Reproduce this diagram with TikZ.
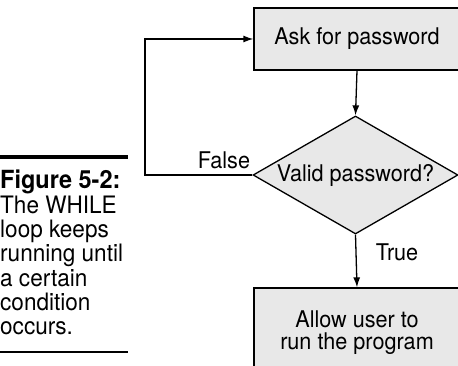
\documentclass[tikz,border=0pt]{standalone}
\usepackage{fontspec}
\setmainfont{TeX Gyre Heros}[FakeStretch=0.94]
\usetikzlibrary{shapes.geometric,arrows.meta}
\definecolor{boxgray}{HTML}{E8E8E8}
\tikzset{
  flowbox/.style={draw=black, line width=1.3pt, fill=boxgray, minimum width=206pt, inner sep=0pt, font=\fontsize{23}{23}\selectfont, align=center},
  decision/.style={diamond, aspect=1.74, draw=black, line width=1.3pt, fill=boxgray, minimum width=205pt, minimum height=118pt, inner sep=0pt, font=\fontsize{23}{23}\selectfont},
  arr/.style={line width=1.3pt, -{Latex[length=10pt,width=7pt]}},
  lbl/.style={font=\fontsize{23}{23}\selectfont, inner sep=0pt},
}
\begin{document}
\begin{tikzpicture}[x=1pt,y=-1pt]
\useasboundingbox (0,0) rectangle (458,366);
\begin{scope}
\clip (0,0) rectangle (458,366);
\node[flowbox, minimum height=62pt] (ask) at (357,39) {Ask for password};
\node[decision] (valid) at (355.5,175) {Valid password?};
\node[flowbox, minimum height=84pt, text depth=0pt] (allow) at (357,330) {Allow user to\\[-0.5pt]run the program};
\end{scope}
\coordinate (lp) at (145,175);
\draw[arr] (ask.south) -- (valid.north);
\draw[arr] (valid.west) -- (lp) |- (ask.west);
\draw[arr] (valid.south) -- (allow.north);
\node[lbl] (f) at (224,160) {False};
\node[lbl] (t) at (397,252) {True};
\fill (0,155) rectangle (128,159.5);
\node[anchor=north west, inner sep=0pt, align=left, font=\fontsize{24}{24.3}\selectfont] (cap) at (0,170) {{\fontsize{25}{24.3}\selectfont\bfseries Figure 5-2:}\\The WHILE\\loop keeps\\running until\\a certain\\condition\\occurs.};
\draw[line width=1.5pt] (0,352) -- (128,352);
\end{tikzpicture}
\end{document}
